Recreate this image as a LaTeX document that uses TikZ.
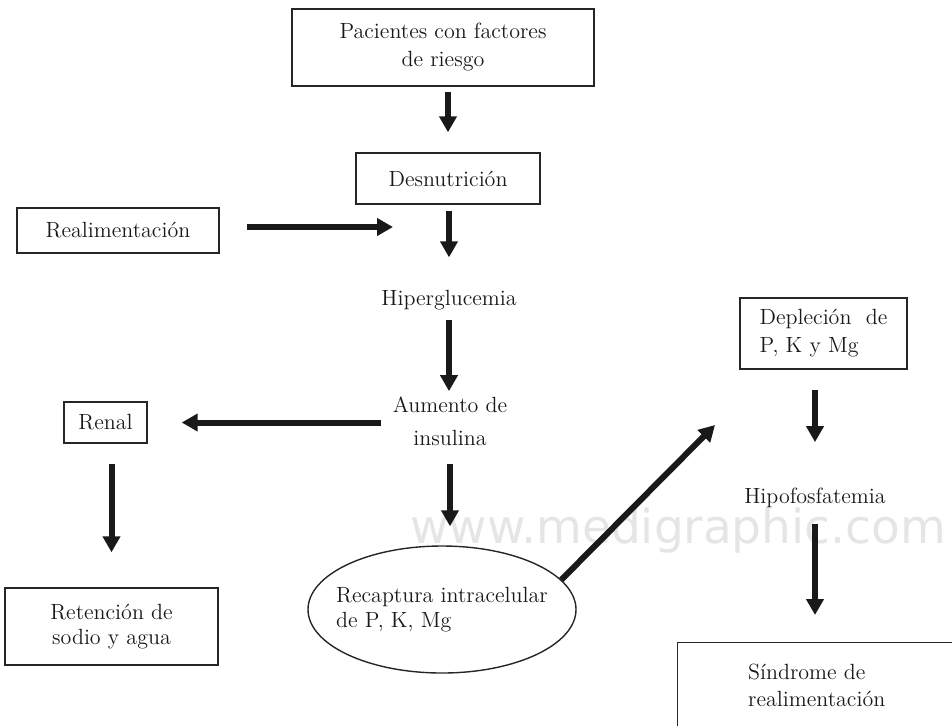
\documentclass[tikz,border=0pt]{standalone}
\usepackage{tikz}
\usepackage{fontspec}
\usetikzlibrary{arrows.meta,shapes.geometric}
\newfontfamily\marcafont{DejaVu Sans}
\tikzset{
  caja/.style={draw=black!85, line width=0.7pt, inner sep=0pt, align=center, text=black!90},
  texto/.style={inner sep=0pt, align=center, text=black!90},
  flecha/.style={draw=black!90, line width=3pt, -{Triangle[width=8.5pt,length=8pt]}},
  marca/.style={inner sep=0pt, text=black!10, font=\marcafont\fontsize{23.5}{24}\selectfont}
}
\begin{document}
\begin{tikzpicture}[x=0.5pt,y=-0.5pt,font=\fontsize{11}{14}\selectfont]
\useasboundingbox (0,0) rectangle (952,725);
\clip (0,0) rectangle (952,725);
%marca de agua
\node[marca, anchor=base west] (wm) at (410,543) {www.medigraphic.com};
%cajas y textos
\node[caja, minimum width=151pt, minimum height=38.5pt] (pac) at (443,47.5) {Pacientes con factores\\de riesgo};
\node[caja, minimum width=92pt, minimum height=25.5pt] (des) at (448,178.5) {Desnutrición};
\node[caja, minimum width=101pt, minimum height=22.5pt] (rea) at (118,230.5) {Realimentación};
\node[texto, anchor=base] (hip) at (449,305) {Hiperglucemia};
\node[texto, font=\fontsize{11}{16.5}\selectfont] (aum) at (450,421) {Aumento de\\insulina};
\node[caja, minimum width=41.5pt, minimum height=20.5pt] (ren) at (105.5,422.5) {Renal};
\node[caja, minimum width=106.5pt, minimum height=38.5pt, font=\fontsize{11}{12.5}\selectfont] (ret) at (111.5,626.5) {Retención de\\sodio y agua};
\node[caja, shape=ellipse, inner xsep=-6pt, inner ysep=0pt, align=left, minimum width=134pt, minimum height=63.5pt, font=\fontsize{11}{12.5}\selectfont] (rec) at (442,609.5) {Recaptura intracelular\\de P, K, Mg};
\node[caja, align=left, minimum width=83.5pt, minimum height=35.5pt] (dep) at (823.5,333.5) {Depleción\ \ de\\P, K y Mg};
\node[texto, anchor=base] (hfo) at (815,503) {Hipofosfatemia};
\node[caja, anchor=north west, align=left, minimum width=139pt, minimum height=43pt, font=\fontsize{11}{13.5}\selectfont] (sin) at (677,642) {Síndrome de\\realimentación};
%flechas
\coordinate (junta) at (449,227);
\coordinate (punta) at (715,425);
\draw[flecha, shorten <=2.5pt, shorten >=10pt] (des.north |- pac.south) -- (des.north);
\draw[flecha, shorten <=13.5pt, shorten >=28pt] (junta -| rea.east) -- (junta);
\draw[flecha, shorten <=3pt, shorten >=16pt] (hip.north |- des.south) -- (hip.north);
\draw[flecha, shorten <=5pt, shorten >=2.5pt] (hip.south) -- (hip.south |- aum.north);
\draw[flecha, shorten <=5.5pt, shorten >=17pt] (ren.east -| aum.west) -- (ren.east);
\draw[flecha, shorten <=10pt, shorten >=17.5pt] (ret.north |- ren.south) -- (ret.north);
\draw[flecha, shorten <=9pt, shorten >=9.5pt] (aum.south) -- (aum.south |- rec.north);
\draw[flecha] (rec.14) -- (punta);
\draw[flecha, shorten <=10pt, shorten >=22.5pt] (hfo.north |- dep.south) -- (hfo.north);
\draw[flecha, shorten <=8pt, shorten >=13.5pt] (hfo.south) -- (hfo.south |- sin.north);
\end{tikzpicture}
\end{document}
